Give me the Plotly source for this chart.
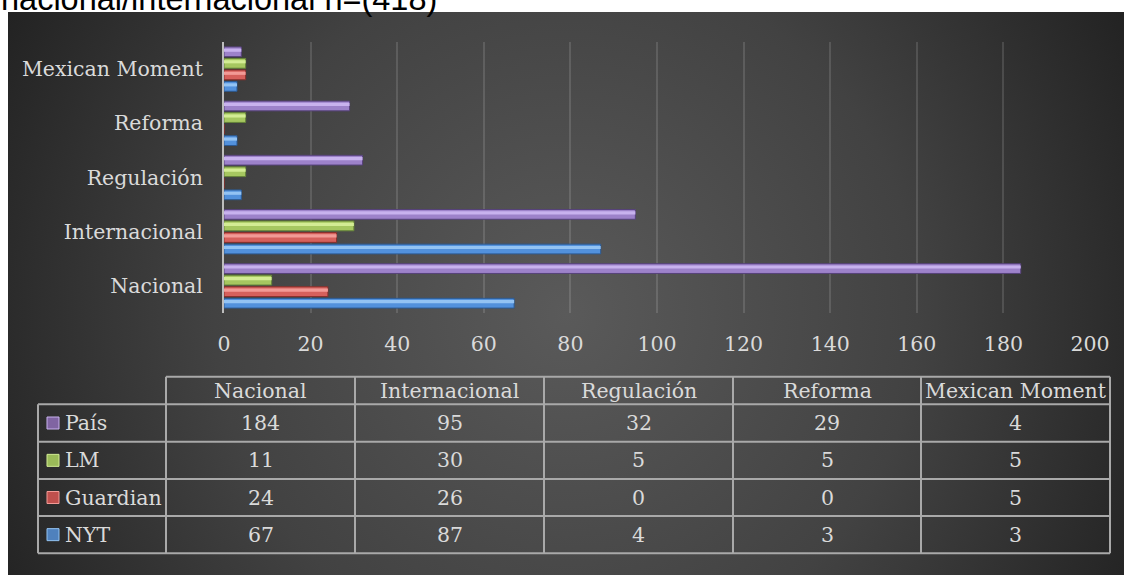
import base64
import plotly.graph_objects as go

# ---------------- data ----------------
categories = ["Nacional", "Internacional", "Regulación", "Reforma", "Mexican Moment"]
series_names = ["NYT", "Guardian", "LM", "País"]
nyt = [67, 87, 4, 3, 3]
guardian = [24, 26, 0, 0, 5]
lm = [11, 30, 5, 5, 5]
pais = [184, 95, 32, 29, 4]
x_ticks = list(range(0, 201, 20))
title_text = "nacional/internacional n=(418)"

# ---------------- styling ----------------
W, H = 1124, 575
FONT = "DejaVu Serif"
FS = 20.5
TXT = "#dadada"
GRID = "rgba(255,255,255,0.13)"
TABLE_LINE = "#a9a9a9"

fills = {"NYT": "#5291dc", "Guardian": "#d6605c", "LM": "#a6c760", "País": "#9d82ca"}
lights = {"NYT": "#93c3f3", "Guardian": "#f29a96", "LM": "#d3ec94", "País": "#c8b2ee"}
edges = {"NYT": "#2c5a92", "Guardian": "#8a2e2b", "LM": "#66843a", "País": "#56427a"}
keys = {"NYT": "#4f81bd", "Guardian": "#c0504d", "LM": "#9bbb59", "País": "#8064a2"}
values = {"NYT": nyt, "Guardian": guardian, "LM": lm, "País": pais}


def px(x):
    return x / W


def py(y):
    return 1 - y / H


fig = go.Figure()
pitch, bw_ = 0.213, 0.18
for i, name in enumerate(series_names):
    off = -2 * pitch + i * pitch + (pitch - bw_) / 2
    fig.add_trace(go.Bar(
        name=name, y=categories, x=values[name], orientation="h",
        offset=off, width=bw_,
        marker=dict(color=fills[name], line=dict(color=edges[name], width=1)),
        hoverinfo="skip",
    ))
    # bevel highlight strip
    fig.add_trace(go.Bar(
        name=name + " hl", y=categories, x=values[name], orientation="h",
        offset=off + bw_ * 0.5, width=bw_ * 0.32,
        marker=dict(color=lights[name], line=dict(width=0)),
        hoverinfo="skip",
    ))

# background radial gradient (as an SVG image)
bw, bh = 1116, 563
svg = (
    f'<svg xmlns="http://www.w3.org/2000/svg" width="{bw}" height="{bh}" viewBox="0 0 {bw} {bh}" preserveAspectRatio="none">'
    f'<defs><radialGradient id="g" gradientUnits="userSpaceOnUse" cx="{bw/2}" cy="{bh/2+20}" r="640">'
    '<stop offset="0" stop-color="#5a5a5a"/><stop offset="0.55" stop-color="#424242"/>'
    '<stop offset="1" stop-color="#222222"/></radialGradient></defs>'
    f'<rect width="{bw}" height="{bh}" fill="url(#g)"/></svg>'
)
src = "data:image/svg+xml;base64," + base64.b64encode(svg.encode()).decode()

shapes = []
annotations = []

# ---------------- data table ----------------
col_edges = [166, 355, 544, 733, 921, 1110]
row_edges = [376.7, 404.3, 441.7, 479, 516, 553.3]
left_edge = 38
table_rows = ["País", "LM", "Guardian", "NYT"]

shapes.append(dict(type="line", xref="paper", yref="paper", x0=px(col_edges[0]), x1=px(col_edges[-1]),
                   y0=py(row_edges[0]), y1=py(row_edges[0]), line=dict(color=TABLE_LINE, width=2)))
for ry in row_edges[1:]:
    shapes.append(dict(type="line", xref="paper", yref="paper", x0=px(left_edge), x1=px(col_edges[-1]),
                       y0=py(ry), y1=py(ry), line=dict(color=TABLE_LINE, width=2)))
shapes.append(dict(type="line", xref="paper", yref="paper", x0=px(left_edge), x1=px(left_edge),
                   y0=py(row_edges[1]), y1=py(row_edges[-1]), line=dict(color=TABLE_LINE, width=2)))
for cx in col_edges:
    shapes.append(dict(type="line", xref="paper", yref="paper", x0=px(cx), x1=px(cx),
                       y0=py(row_edges[0]), y1=py(row_edges[-1]), line=dict(color=TABLE_LINE, width=2)))

for i, cat in enumerate(categories):
    cx = (col_edges[i] + col_edges[i + 1]) / 2
    cy = (row_edges[0] + row_edges[1]) / 2
    annotations.append(dict(x=px(cx), y=py(cy), xref="paper", yref="paper", text=cat, showarrow=False,
                            xanchor="center", yanchor="middle", font=dict(family=FONT, size=FS, color=TXT)))

for r, name in enumerate(table_rows):
    cy = (row_edges[r + 1] + row_edges[r + 2]) / 2
    shapes.append(dict(type="rect", xref="paper", yref="paper",
                       x0=px(47), x1=px(59), y0=py(cy + 6), y1=py(cy - 6),
                       fillcolor=keys[name], line=dict(color=lights[name], width=1)))
    annotations.append(dict(x=px(63), y=py(cy), xref="paper", yref="paper", text=name, showarrow=False,
                            xanchor="left", yanchor="middle", font=dict(family=FONT, size=FS, color=TXT)))
    for i, v in enumerate(values[name]):
        cx = (col_edges[i] + col_edges[i + 1]) / 2
        annotations.append(dict(x=px(cx), y=py(cy), xref="paper", yref="paper", text=str(v), showarrow=False,
                                xanchor="center", yanchor="middle", font=dict(family=FONT, size=FS, color=TXT)))

annotations.append(dict(x=0, y=py(17.5), xref="paper", yref="paper", text=title_text, showarrow=False,
                        xanchor="left", yanchor="bottom", borderpad=0,
                        font=dict(family="Liberation Sans, Arial", size=32.5, color="#000000")))

fig.update_layout(
    width=W, height=H,
    autosize=False,
    margin=dict(l=0, r=0, t=0, b=0, pad=0, autoexpand=False),
    paper_bgcolor="#ffffff",
    plot_bgcolor="rgba(0,0,0,0)",
    showlegend=False,
    barmode="overlay",
    images=[dict(source=src, xref="paper", yref="paper", x=px(8), y=py(12), sizex=bw / W, sizey=bh / H,
                 xanchor="left", yanchor="top", sizing="stretch", layer="below")],
    shapes=shapes,
    annotations=annotations,
    xaxis=dict(domain=[px(224), px(1090)], range=[0, 200], tickvals=x_ticks, showgrid=True,
               gridcolor=GRID, gridwidth=2, zeroline=False, showline=False, ticks="", automargin=False,
               ticklabelstandoff=16, tickfont=dict(family=FONT, size=FS, color=TXT), fixedrange=True),
    yaxis=dict(domain=[py(313), py(42)], categoryorder="array", categoryarray=categories,
               range=[-0.5, 4.5], showgrid=False, zeroline=False, showline=True, linecolor="#bdbdbd",
               linewidth=2, ticks="", ticklabelstandoff=15, automargin=False,
               tickfont=dict(family=FONT, size=FS, color=TXT), fixedrange=True),
)

fig.write_html(
    "out.html",
    config={"displayModeBar": False, "responsive": False},
    post_script="document.body.style.margin='0';document.body.style.overflow='hidden';",
)
